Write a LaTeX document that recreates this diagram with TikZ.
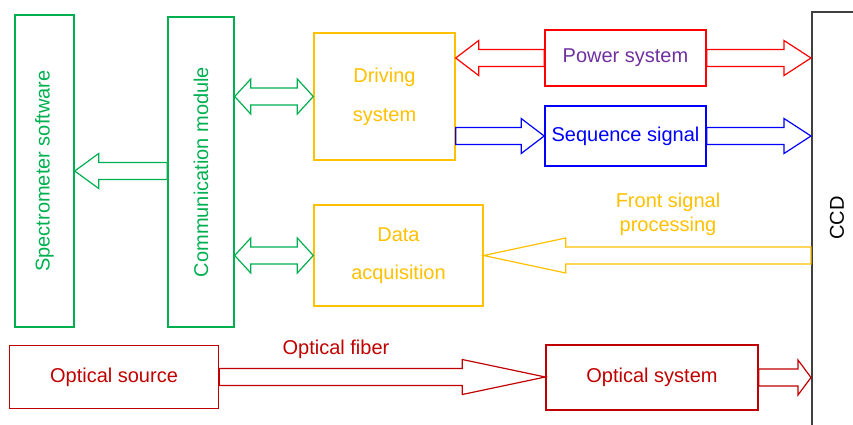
\documentclass[tikz,border=0pt]{standalone}
\usepackage{fontspec}
\setmainfont{Liberation Sans}
\usepackage{tikz}
\usetikzlibrary{calc}
%
\definecolor{cgreen}{RGB}{0,176,80}
\definecolor{cyellow}{RGB}{255,192,0}
\definecolor{cred}{RGB}{255,0,0}
\definecolor{cpurple}{RGB}{112,48,160}
\definecolor{cblue}{RGB}{0,0,255}
\definecolor{cdred}{RGB}{192,0,0}
\definecolor{cgray}{RGB}{64,64,64}
%
\tikzset{
  blk/.style={draw, line width=0.7pt, minimum width=#1},
  blk/.default=10pt,
  txt/.style={font=\fontsize{10}{12}\selectfont, align=center},
}
% hollow arrow: tail y is used, tip x is used
\newcommand\hollowarrow[4][]{%
  \draw[line width=0.6pt,#1] let \p1=(#2), \p2=(#3), \n1={#4*0.5*sign(\x2-\x1)} in
    (\x1,\y1+4.25pt) -- (\x2-\n1,\y1+4.25pt) -- (\x2-\n1,\y1+8.75pt) -- (\x2,\y1)
    -- (\x2-\n1,\y1-8.75pt) -- (\x2-\n1,\y1-4.25pt) -- (\x1,\y1-4.25pt) -- cycle;}
\newcommand\hollowdarrow[4][]{%
  \draw[line width=0.6pt,#1] let \p1=(#2), \p2=(#3), \n1={#4*0.5*sign(\x2-\x1)} in
    (\x1,\y1) -- (\x1+\n1,\y1+8.75pt) -- (\x1+\n1,\y1+4.25pt) -- (\x2-\n1,\y1+4.25pt)
    -- (\x2-\n1,\y1+8.75pt) -- (\x2,\y1) -- (\x2-\n1,\y1-8.75pt) -- (\x2-\n1,\y1-4.25pt)
    -- (\x1+\n1,\y1-4.25pt) -- (\x1+\n1,\y1-8.75pt) -- cycle;}

\begin{document}
\begin{tikzpicture}[x=0.5pt,y=-0.5pt]
\clip (0,0) rectangle (853,424);
%
\node[blk=29.5pt, draw=cgreen, minimum height=156pt] (soft) at (44.5,171) {};
\node[txt, text=cgreen, rotate=90] (softtxt) at (soft) {Spectrometer software};
\node[blk=33pt, draw=cgreen, minimum height=155pt] (comm) at (201,172) {};
\node[txt, text=cgreen, rotate=90] (commtxt) at (comm) {Communication module};
\node[blk=70.5pt, draw=cyellow, minimum height=63.5pt, txt, text=cyellow] (drv) at (384.5,96.5) {Driving\\[7.5pt]system};
\node[blk=84.5pt, draw=cyellow, minimum height=50.5pt, txt, text=cyellow] (data) at (398.5,255.5) {Data\\[7pt]acquisition};
\node[blk=80.5pt, draw=cred, minimum height=28pt, txt, text=cpurple] (pwr) at (625.5,58) {Power system};
\node[blk=80.5pt, draw=cblue, minimum height=30pt, txt, text=cblue] (seq) at (625.5,136) {Sequence signal};
\node[blk=50pt, draw=cgray, line width=0.8pt, minimum height=220pt, anchor=north west] (ccd) at (811,11) {};
\node[txt, rotate=90] (ccdtxt) at (837,218) {CCD};
\node[blk=104.5pt, draw=cdred, minimum height=31.5pt, txt, text=cdred] (src) at (114,377) {Optical source};
\node[blk=106pt, draw=cdred, minimum height=32.5pt, txt, text=cdred] (osys) at (652,377.5) {Optical system};
%
\node[txt, text=cdred] (fiber) at (336,349) {Optical fiber};
\node[txt, text=cyellow] (front) at (668,214) {Front signal\\processing};
%
\hollowarrow[draw=cgreen]{comm.west |- soft.east}{soft.east}{24}
\hollowdarrow[draw=cgreen]{comm.east |- drv.west}{drv.west}{16}
\hollowdarrow[draw=cgreen]{comm.east |- data.west}{data.west}{16}
\hollowarrow[draw=cred]{pwr.west}{drv.east}{23}
\hollowarrow[draw=cred]{pwr.east}{ccd.west}{27}
\hollowarrow[draw=cblue]{drv.east |- seq.west}{seq.west}{23}
\hollowarrow[draw=cblue]{seq.east}{ccd.west}{27}
\hollowarrow[draw=cyellow]{ccd.west |- data.east}{data.east}{82}
\hollowarrow[draw=cdred]{src.east}{osys.west}{83}
\hollowarrow[draw=cdred]{osys.east}{ccd.west}{13}
%
\end{tikzpicture}
\end{document}
